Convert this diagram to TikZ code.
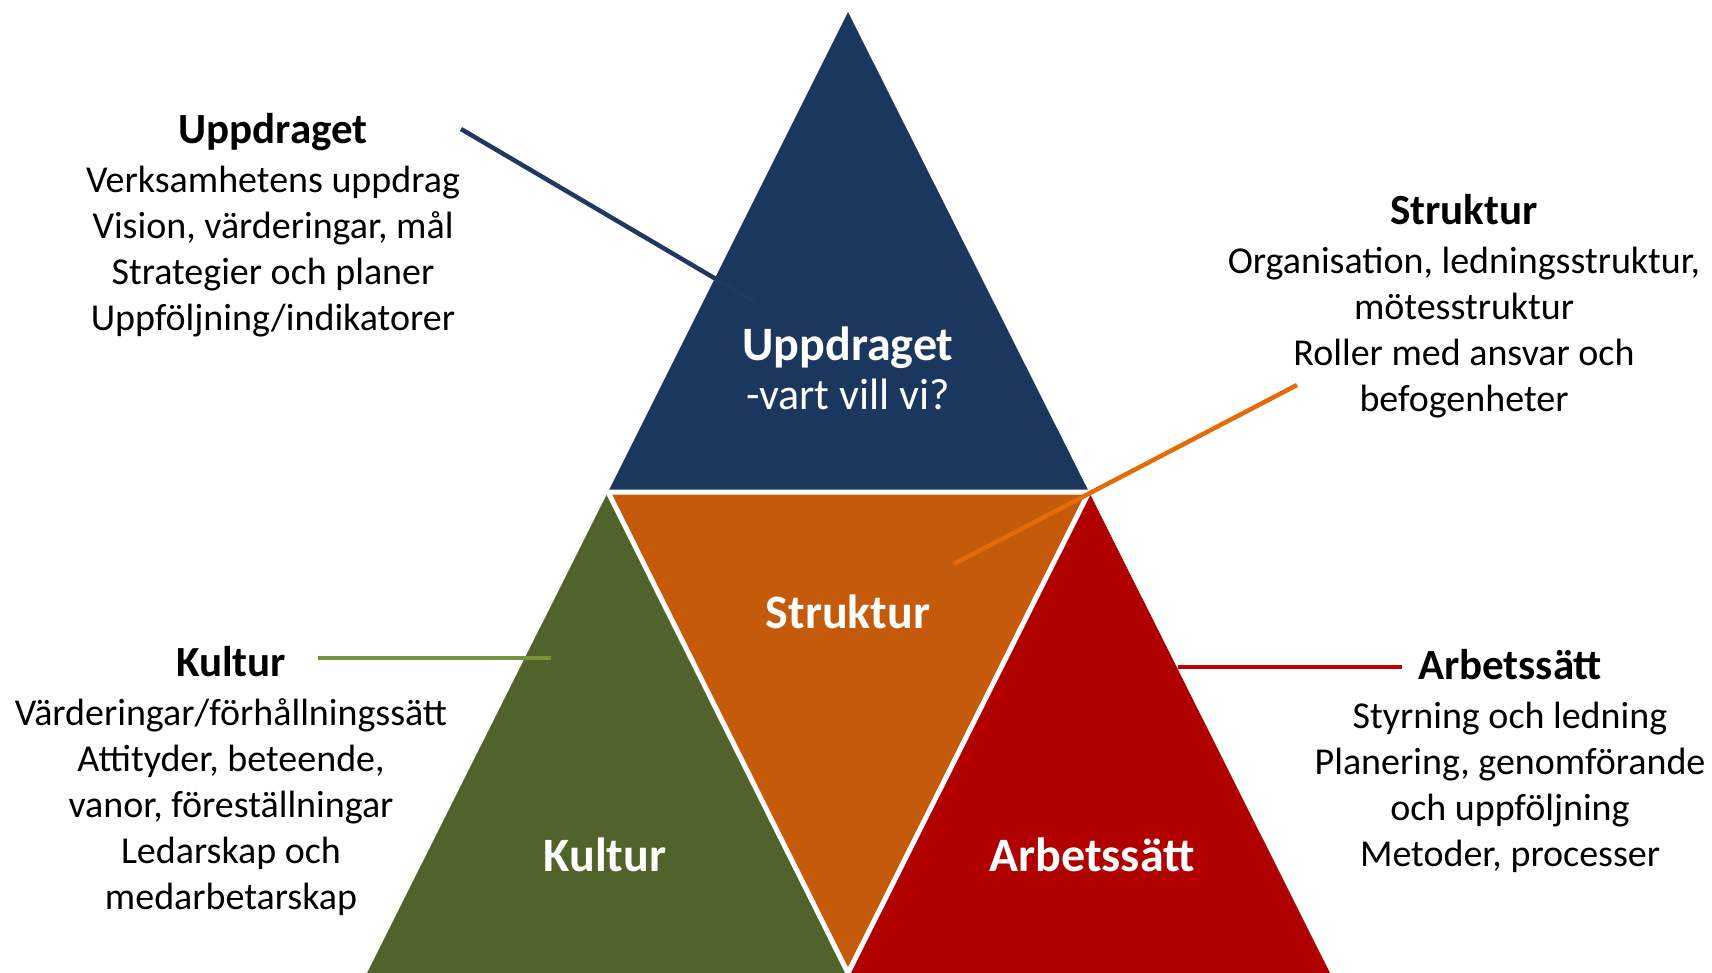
\documentclass[tikz,border=0pt]{standalone}
\usepackage{fontspec}
\setmainfont{Carlito}
\definecolor{ublue}{HTML}{1B375E}
\definecolor{uorange}{HTML}{C55A0B}
\definecolor{ugreen}{HTML}{50632A}
\definecolor{ured}{HTML}{B00000}
\definecolor{lblue}{HTML}{1F3864}
\definecolor{lorange}{HTML}{E36C09}
\definecolor{lgreen}{HTML}{77933C}
\definecolor{lred}{HTML}{C00000}
\newcommand{\hd}[1]{{\fontsize{43}{46}\selectfont\bfseries #1}}
\begin{document}
\begin{tikzpicture}[x=1pt,y=-1pt,
  blocktext/.style={align=center, text=black, font=\fontsize{38}{46}\selectfont},
  inlabel/.style={align=center, text=white, font=\fontsize{48}{49}\selectfont\bfseries},
  conn/.style={line width=4.5pt}]
\useasboundingbox (0,0) rectangle (1712,973);
\coordinate (A) at (848,12);
\coordinate (B) at (367,973);
\coordinate (C) at (1330,973);
\coordinate (D) at (608,492);
\coordinate (E) at (1089,492);
\coordinate (F) at (848,973);
\fill[ublue] (A) -- (D) -- (E) -- cycle;
\fill[uorange] (D) -- (E) -- (F) -- cycle;
\fill[ugreen] (D) -- (B) -- (F) -- cycle;
\fill[ured] (E) -- (F) -- (C) -- cycle;
\draw[white, line width=5pt] (D) -- (E) (D) -- (F) (E) -- (F);

\node[inlabel] (tU) at (848,368) {Uppdraget\\{\fontsize{44}{49}\selectfont\mdseries -vart vill vi?}};
\node[inlabel] (tS) at (848,612) {Struktur};
\node[inlabel] (tK) at (605,855) {Kultur};
\node[inlabel] (tA) at (1092,855) {Arbetssätt};

\node[blocktext] (bU) at (273,225) {\hd{Uppdraget}\\[3pt]Verksamhetens uppdrag\\Vision, värderingar, mål\\Strategier och planer\\Uppföljning/indikatorer};
\node[blocktext] (bS) at (1464,306) {\hd{Struktur}\\[3pt]Organisation, ledningsstruktur,\\mötesstruktur\\Roller med ansvar och\\befogenheter};
\node[blocktext] (bK) at (231,781) {\hd{Kultur}\\[3pt]Värderingar/förhållningssätt\\Attityder, beteende,\\vanor, föreställningar\\Ledarskap och\\medarbetarskap};
\node[blocktext] (bA) at (1510,761) {\hd{Arbetssätt}\\[3pt]Styrning och ledning\\Planering, genomförande\\och uppföljning\\Metoder, processer};

\coordinate (u1) at (461,129);
\coordinate (u2) at (755,302);
\coordinate (s1) at (1297,385);
\coordinate (s2) at (954,564);
\coordinate (k1) at (318,658);
\coordinate (k2) at (551,658);
\coordinate (a1) at (1178,667);
\coordinate (a2) at (1402,667);
\draw[conn, lblue] (u1) -- (u2);
\draw[conn, lorange] (s1) -- (s2);
\draw[conn, lgreen] (k1) -- (k2);
\draw[conn, lred] (a1) -- (a2);
\end{tikzpicture}
\end{document}
